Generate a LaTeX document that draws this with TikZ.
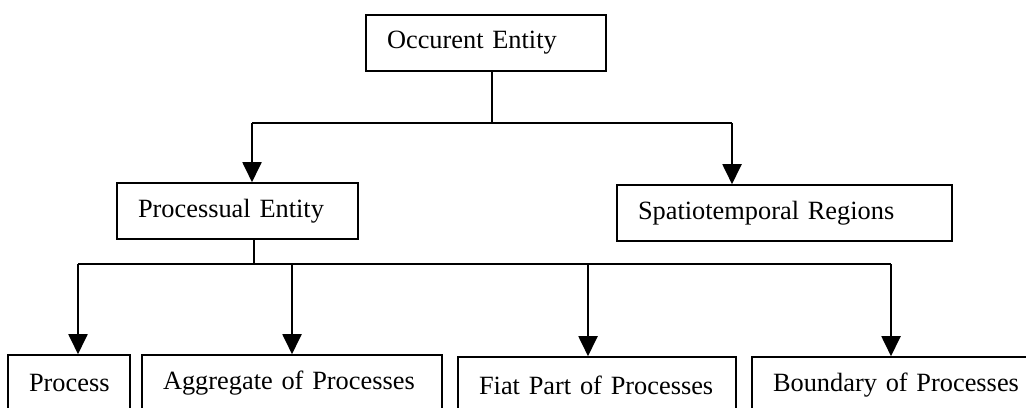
\documentclass[tikz,border=0pt]{standalone}
\usepackage{fontspec}
\setmainfont{Liberation Serif}
\usetikzlibrary{arrows.meta}
\newcommand{\boxfont}{\fontsize{15pt}{18pt}\selectfont}

\begin{document}
\begin{tikzpicture}[x=0.02cm,y=-0.02cm,
  entbox/.style={draw,line width=0.9pt,inner xsep=0pt,inner ysep=0pt,
    minimum height=1.12cm,align=left,font=\boxfont,
    execute at begin node={\hspace*{0.42cm}}},
  arr/.style={line width=1.1pt,-{Triangle[length=0.4cm,width=0.38cm]}},
  link/.style={line width=1.1pt}]
\useasboundingbox (0,0) rectangle (1026,408);
%top level
\node[entbox,text width=4.80cm] (occ) at (486,43) {Occurent Entity};
%second level
\node[entbox,text width=4.82cm] (proc) at (237.5,211) {Processual Entity};
\node[entbox,text width=6.70cm] (spat) at (784.5,213) {Spatiotemporal Regions};
%third level
\node[entbox,text width=2.44cm] (prc) at (69,383) {Process};
\node[entbox,text width=6.00cm] (agg) at (292,383) {Aggregate of Processes};
\node[entbox,text width=5.56cm] (fiat) at (597,385) {Fiat Part of Processes};
\node[entbox,text width=5.60cm] (bnd) at (892,385) {Boundary of Processes};
%joints of the connectors
\coordinate (ta) at (252,123);
\coordinate (tb) at (732,123);
\coordinate (ba) at (78,264);
\coordinate (bb) at (292,264);
\coordinate (bc) at (588,264);
\coordinate (bd) at (891,264);
%connectors from the top
\draw[link] (occ.south -| 492,0) -- (ta -| 492,0);
\draw[link] (ta) -- (tb);
\draw[arr] (ta) -- (ta |- proc.north);
\draw[arr] (tb) -- (tb |- spat.north);
%connectors from the processual entity
\draw[link] (proc.south -| 254,0) -- (ba -| 254,0);
\draw[link] (ba) -- (bd);
\draw[arr] (ba) -- (ba |- prc.north);
\draw[arr] (bb) -- (bb |- agg.north);
\draw[arr] (bc) -- (bc |- fiat.north);
\draw[arr] (bd) -- (bd |- bnd.north);
\end{tikzpicture}
\end{document}
